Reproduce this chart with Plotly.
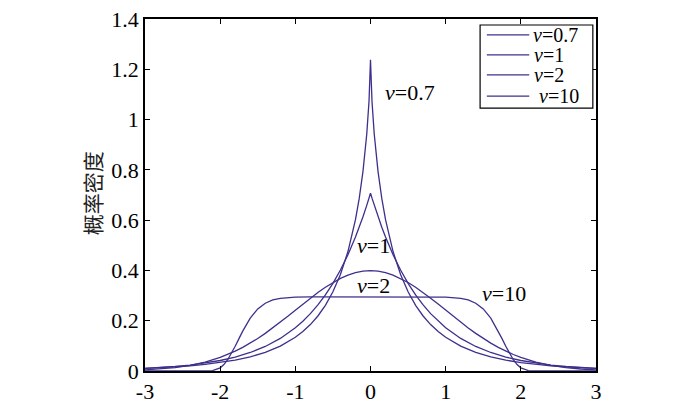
import plotly.graph_objects as go

# Half-curves (x >= 0); the densities are symmetric about x = 0
x_a = [0, 0.02, 0.05, 0.1, 0.15, 0.2, 0.3, 0.4, 0.5, 0.6, 0.7, 0.8, 0.9, 1.0,
       1.2, 1.4, 1.6, 1.8, 2.0, 2.2, 2.4, 2.6, 2.8, 3.0]
y_v07 = [1.2376, 1.0719, 0.9418, 0.7942, 0.6865, 0.6019, 0.4751, 0.3837, 0.3149,
         0.2613, 0.2188, 0.1846, 0.1568, 0.1339, 0.0989, 0.0741, 0.0563, 0.0432,
         0.0334, 0.0260, 0.0204, 0.0161, 0.0128, 0.0102]
y_v1 = [0.7071, 0.6874, 0.6588, 0.6138, 0.5720, 0.5330, 0.4626, 0.4016, 0.3487,
        0.3027, 0.2628, 0.2281, 0.1980, 0.1719, 0.1296, 0.0976, 0.0736, 0.0555,
        0.0418, 0.0315, 0.0237, 0.0179, 0.0135, 0.0102]

x_b = [0, 0.1, 0.2, 0.3, 0.4, 0.5, 0.6, 0.7, 0.8, 0.9, 1.0, 1.1, 1.2, 1.3, 1.4,
       1.5, 1.6, 1.7, 1.8, 1.9, 2.0, 2.2, 2.4, 2.6, 2.8, 3.0]
y_v2 = [0.3989, 0.3970, 0.3910, 0.3814, 0.3683, 0.3521, 0.3332, 0.3123, 0.2897,
        0.2661, 0.2420, 0.2179, 0.1942, 0.1714, 0.1497, 0.1295, 0.1109, 0.0940,
        0.0790, 0.0656, 0.0540, 0.0355, 0.0224, 0.0136, 0.0079, 0.0044]

x_c = [0, 0.5, 0.8, 1.0, 1.2, 1.3, 1.4, 1.5, 1.6, 1.7, 1.75, 1.8, 1.85, 1.9,
       1.95, 2.0, 2.1, 2.2, 2.4, 3.0]
y_v10 = [0.2947, 0.2947, 0.2946, 0.2938, 0.2892, 0.2825, 0.2696, 0.2468, 0.2102,
         0.1585, 0.1287, 0.0983, 0.0696, 0.0448, 0.0256, 0.0127, 0.0017, 0.0001,
         0.0, 0.0]

names = ["<i>v</i>=0.7", "<i>v</i>=1", "<i>v</i>=2", "<i>v</i>=10"]
series = [(names[0], x_a, y_v07), (names[1], x_a, y_v1),
          (names[2], x_b, y_v2), (names[3], x_c, y_v10)]

labels = [(names[0], 0.17, 1.106), (names[1], -0.2, 0.50),
          (names[2], -0.2, 0.342), (names[3], 1.46, 0.31)]

x_ticks = [-3, -2, -1, 0, 1, 2, 3]
y_ticks = [0, 0.2, 0.4, 0.6, 0.8, 1, 1.2, 1.4]
y_ticktext = ["0", "0.2", "0.4", "0.6", "0.8", "1", "1.2", "1.4"]

color = "#3f2f8c"
serif = "Liberation Serif"

fig = go.Figure()
for name, xs, ys in series:
    full_x = [-v for v in xs[::-1]] + xs[1:]
    full_y = ys[::-1] + ys[1:]
    fig.add_trace(go.Scatter(x=full_x, y=full_y, mode="lines", name=name,
                             showlegend=False,
                             line=dict(color=color, width=1.3)))

for text, x, y in labels:
    fig.add_annotation(x=x, y=y, text=text, showarrow=False, xanchor="left",
                       yanchor="middle", font=dict(family=serif, size=22, color="black"))

# Legend box drawn in paper coordinates
fig.add_shape(type="rect", xref="paper", yref="paper", x0=0.743, x1=0.993,
              y0=0.747, y1=0.983, line=dict(color="black", width=1.2),
              fillcolor="white", layer="above")
leg_rows = [0.955, 0.898, 0.841, 0.781]
leg_text_x = [0.858, 0.860, 0.860, 0.871]
for name, ry, tx in zip(names, leg_rows, leg_text_x):
    fig.add_shape(type="line", xref="paper", yref="paper", x0=0.758, x1=0.852,
                  y0=ry, y1=ry, line=dict(color=color, width=1.3), layer="above")
    fig.add_annotation(xref="paper", yref="paper", x=tx, y=ry, text=name,
                       showarrow=False, xanchor="left", yanchor="middle",
                       height=18, valign="middle", borderpad=0,
                       font=dict(family=serif, size=20, color="black"))

# y-axis title
fig.add_annotation(xref="paper", yref="paper", x=0, y=0.505, xshift=-53,
                   text="概率密度", textangle=-90, showarrow=False,
                   xanchor="center", yanchor="middle",
                   font=dict(family="Noto Sans CJK SC", size=21, color="#222"))

axis_common = dict(showline=True, linecolor="black", linewidth=1.5, mirror="ticks",
                   ticks="inside", ticklen=5, tickcolor="black", showgrid=False,
                   zeroline=False, automargin=False,
                   tickfont=dict(family=serif, size=22, color="black"))

fig.update_layout(
    width=700, height=403,
    margin=dict(l=145, r=104, t=19, b=32),
    paper_bgcolor="white", plot_bgcolor="white",
    xaxis=dict(range=[-3, 3], tickvals=x_ticks, ticktext=[str(t) for t in x_ticks],
               **axis_common),
    yaxis=dict(range=[0, 1.4], tickvals=y_ticks, ticktext=y_ticktext,
               **axis_common),
    showlegend=False,
)

fig.write_html("out.html", config={"displayModeBar": False},
               post_script="document.body.style.margin='0';")
